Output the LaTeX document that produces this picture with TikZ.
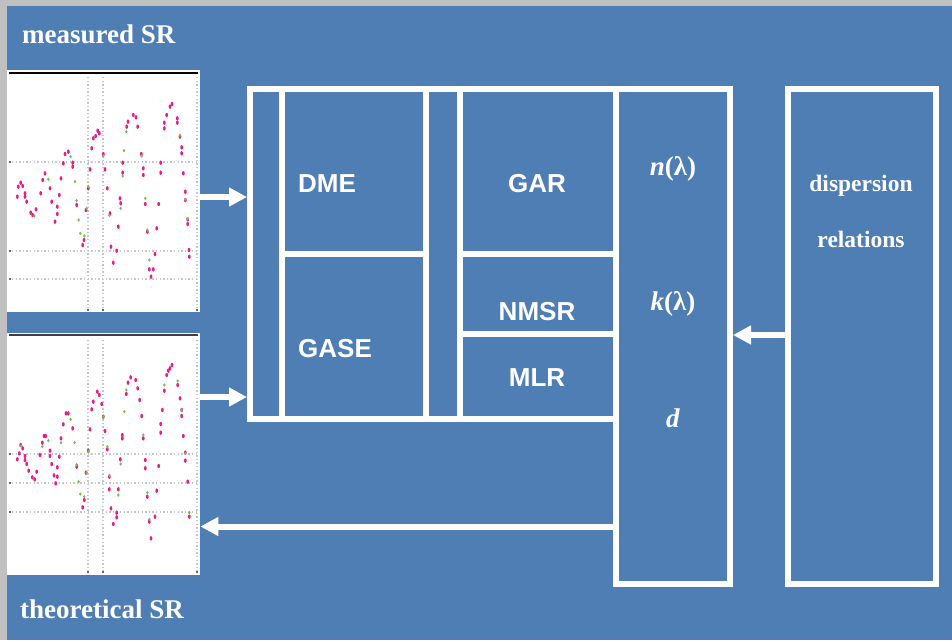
\documentclass[tikz,border=0pt]{standalone}
\usepackage{fontspec}
\setmainfont{Liberation Serif}
\newfontfamily\arialfont{Liberation Sans}
\usetikzlibrary{arrows.meta}
\definecolor{bgblue}{HTML}{4F7EB5}
\definecolor{bordergray}{HTML}{C0C0C0}
\definecolor{dotpink}{HTML}{EC1C84}
\definecolor{dotgreen}{HTML}{6CC448}
\definecolor{gridgray}{HTML}{C8C8C8}
\tikzset{
  wbox/.style={draw=white, line width=6pt, inner sep=0pt, minimum width=#1},
  arr/.style={white, line width=6pt, -{Triangle[length=18pt,width=18pt]}},
  sanslbl/.style={text=white, font=\arialfont\bfseries\fontsize{26}{30}\selectfont, inner sep=0pt},
  seriflbl/.style={text=white, font=\bfseries\fontsize{27}{32}\selectfont, inner sep=0pt},
  smallserif/.style={text=white, font=\bfseries\fontsize{23.5}{28}\selectfont, inner sep=0pt},
  plotbg/.style={fill=white, draw=none},
  gridl/.style={gridgray, line width=1.4pt, dash pattern=on 1.4pt off 2.2pt},
  pk/.style={fill=dotpink},
  gr/.style={fill=dotgreen}
}
\begin{document}
\begin{tikzpicture}[x=1pt,y=-1pt]
\useasboundingbox (0,0) rectangle (952,640);
% background
\fill[bordergray] (0,0) rectangle (952,640);
\fill[bgblue] (7,6) rectangle (952,640);

% plots
\node[plotbg, minimum width=193pt, minimum height=242pt, inner sep=0pt, anchor=north west] (plot1) at (7,70) {};
\node[plotbg, minimum width=193pt, minimum height=242pt, inner sep=0pt, anchor=north west] (plot2) at (7,333) {};

% plot 1 grid
\foreach \gy in {162,251,279} {
  \draw[gridl] (12,\gy) -- (197,\gy);
  \fill[black!80] (10,\gy) circle (1.2);
}
\foreach \gx in {88,103,197} {
  \draw[gridl] (\gx,77) -- (\gx,308);
  \fill[black!80] (\gx,310) circle (1.1);
}
\draw[black, line width=1.5pt] (9,73) -- (198,73);
% plot 2 grid
\foreach \gy in {454,483,512} {
  \draw[gridl] (12,\gy) -- (197,\gy);
  \fill[black!80] (10,\gy) circle (1.2);
}
\foreach \gx in {88,103,197} {
  \draw[gridl] (\gx,340) -- (\gx,571);
  \fill[black!80] (\gx,572) circle (1.1);
}
\draw[black!75, line width=1.5pt] (9,335) -- (198,335);

% plot 1 points
\foreach \px/\py in {52/410,55/380,62/368,68/378,75/400,75/410,80/425,92/458,98/465,108/448,122/400,128/360,135/340,150/385,155/425,165/485,172/440,172/462,178/405,183/355,190/310,195/282,205/275,218/308,218/320,230/435,248/555,252/540,258/450,265/385,270/328,275/265,280/235,287/228,293/212,298/220,310/282,315/328,322/385,330/460,333/560,340/608,350/572,355/500,360/415,362/430,368/308,368/338,380/200,384/185,400/165,408/172,413/200,424/282,430/325,430/345,436/432,442/515,448/628,453/650,460/628,465/582,470/505,476/432,482/308,482/338,493/188,493/205,500/165,510/140,516/132,532/175,532/188,540/230,545/262,545/280,550/340,556/395,556/420,563/478,563/492,567/570,568/590}
  \fill[pk] ({\px/3},{\py/3+60}) ellipse [x radius=1.4, y radius=2.2];
\foreach \px/\py in {145/358,103/468,212/290,225/365,230/422,236/480,241/520,253/528,260/445,265/380,310/288,328/466,362/445,372/272,379/215,368/348,425/288,436/415,442/510,448/600,540/226,556/418,563/476}
  \fill[gr] ({\px/3},{\py/3+60}) ellipse [x radius=1.3, y radius=1.8];

% plot 2 points
\foreach \px/\py in {52/418,58/400,62/375,68/385,75/408,75/420,80/432,86/452,97/472,104/478,110/455,120/405,127/368,132/348,137/348,150/392,150/408,155/432,162/466,167/490,172/442,172/470,178/410,183/355,190/313,198/280,205/280,218/325,230/440,248/562,253/540,258/458,265/392,270/328,275/268,280/245,292/215,298/225,305/252,310/290,315/333,322/388,328/470,328/508,333/565,340/612,350/578,350/592,355/508,361/418,367/345,367/355,379/222,384/188,392/172,407/180,413/205,419/240,425/288,430/355,436/420,436/445,442/530,448/605,453/655,465/590,470/512,476/438,482/312,482/338,487/270,493/212,500/165,505/152,510/145,516/135,533/195,540/235,545/270,545/288,550/348,556/398,556/422,563/485,568/590}
  \fill[pk] ({\px/3},{\py/3+320}) ellipse [x radius=1.4, y radius=2.2];
\foreach \px/\py in {64/378,127/380,145/362,183/368,212/298,224/368,230/434,236/485,241/522,253/530,260/458,265/395,310/290,322/380,328/466,355/525,362/432,373/275,379/210,430/345,442/518,448/598,493/195,533/183,545/270,556/400,568/578}
  \fill[gr] ({\px/3},{\py/3+320}) ellipse [x radius=1.3, y radius=1.8];

% boxes
\node[wbox=31.5pt, minimum height=329.5pt] (bar1) at (265.75,253.75) {};
\node[wbox=144.5pt, minimum height=164.5pt] (dme) at (353.75,171.25) {};
\node[wbox=144.5pt, minimum height=165pt] (gase) at (353.75,336) {};
\node[wbox=33.5pt, minimum height=329.5pt] (bar2) at (442.75,253.75) {};
\node[wbox=156.5pt, minimum height=164.5pt] (gar) at (537.75,171.25) {};
\node[wbox=156.5pt, minimum height=80pt] (nmsr) at (537.75,293.5) {};
\node[wbox=156.5pt, minimum height=85pt] (mlr) at (537.75,376) {};
\node[wbox=114pt, minimum height=494.5pt] (nbox) at (673,336.25) {};
\node[wbox=147.5pt, minimum height=494.5pt] (disp) at (861.75,336.25) {};

% connector anchors
\coordinate (y1) at (0,197);
\coordinate (y2) at (0,397);
\coordinate (y3) at (0,526.5);
\coordinate (y4) at (0,335);
\draw[arr] (plot1.east |- y1) -- (bar1.west |- y1);
\draw[arr] (plot2.east |- y2) -- (bar1.west |- y2);
\draw[arr] (nbox.west |- y3) -- (plot2.east |- y3);
\draw[arr] (disp.west |- y4) -- (nbox.east |- y4);

% labels
\node[seriflbl, anchor=base west] (lmeas) at (22,43) {measured SR};
\node[seriflbl, anchor=base west] (ltheo) at (20,618) {theoretical SR};
\node[sanslbl, anchor=base west] (ldme) at (298,192) {DME};
\node[sanslbl, anchor=base west] (lgase) at (298,357) {GASE};
\node[sanslbl, anchor=base] (lgar) at (537,192) {GAR};
\node[sanslbl, anchor=base] (lnmsr) at (537,320) {NMSR};
\node[sanslbl, anchor=base] (lmlr) at (537,386) {MLR};
\node[seriflbl, anchor=base] (ln) at (673,175) {\textit{n}(λ)};
\node[seriflbl, anchor=base] (lk) at (673,310) {\textit{k}(λ)};
\node[seriflbl, anchor=base] (ld) at (673,427) {\textit{d}};
\node[smallserif, anchor=base] (ldisp) at (861,191) {dispersion};
\node[smallserif, anchor=base] (lrel) at (861,247) {relations};
\end{tikzpicture}
\end{document}
